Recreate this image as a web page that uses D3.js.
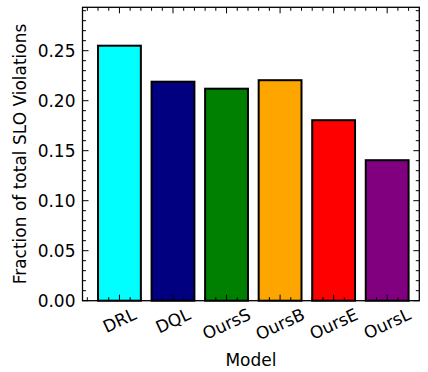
<!DOCTYPE html>
<html>
<head>
<meta charset="utf-8">
<script src="https://cdn.jsdelivr.net/npm/d3@7"></script>
<style>
body { margin: 0; background: #fff; }
text { font-family: "DejaVu Sans", sans-serif; fill: #000; }
</style>
</head>
<body>
<svg id="chart"></svg>
<script>
const width = 428;
const height = 372;
const models = ['DRL', 'DQL', 'OursS', 'OursB', 'OursE', 'OursL'];
const violations = [0.255, 0.219, 0.212, 0.2205, 0.1805, 0.1405];
const colors = ['#00ffff', '#000080', '#008000', '#ffa500', '#ff0000', '#800080'];
const yTicks = [0, 0.05, 0.10, 0.15, 0.20, 0.25];

const plotLeft = 82.5, plotRight = 419.3, plotTop = 7.3, plotBottom = 300.7;
const fontSize = 17;
const majorLen = 6, minorLen = 3.5;

var svg = d3.select('#chart').attr('width', width).attr('height', height);

var xScale = d3.scaleLinear().domain([-0.69, 5.6]).range([plotLeft, plotRight]);
var yScale = d3.scaleLinear().domain([0, 0.2934]).range([plotBottom, plotTop]);

// bars
var barW = xScale(0.8) - xScale(0);
svg.append('g').selectAll('rect')
	.data(violations).enter().append('rect')
	.attr('x', (d, i) => xScale(i) - barW / 2)
	.attr('y', d => yScale(d))
	.attr('width', barW)
	.attr('height', d => yScale(0) - yScale(d))
	.style('fill', (d, i) => colors[i])
	.style('stroke', '#000')
	.style('stroke-width', 2);

// ticks, all pointing inward
var ticks = svg.append('g').style('stroke', '#000').style('stroke-width', 1);
var xMinor = d3.range(-3, 29).map(k => k * 0.2).filter(v => v >= -0.69 && v <= 5.6);
xMinor.forEach(v => {
	var major = Math.abs(v - Math.round(v)) < 1e-6;
	var len = major ? majorLen : minorLen;
	var x = xScale(v);
	ticks.append('line').attr('x1', x).attr('x2', x).attr('y1', plotBottom).attr('y2', plotBottom - len);
	ticks.append('line').attr('x1', x).attr('x2', x).attr('y1', plotTop).attr('y2', plotTop + len);
});
var yMinor = d3.range(0, 30).map(k => k * 0.01);
yMinor.forEach((v, k) => {
	var len = k % 5 === 0 ? majorLen : minorLen;
	var y = yScale(v);
	ticks.append('line').attr('x1', plotLeft).attr('x2', plotLeft + len).attr('y1', y).attr('y2', y);
	ticks.append('line').attr('x1', plotRight).attr('x2', plotRight - len).attr('y1', y).attr('y2', y);
});

// frame
svg.append('rect')
	.attr('x', plotLeft).attr('y', plotTop)
	.attr('width', plotRight - plotLeft).attr('height', plotBottom - plotTop)
	.style('fill', 'none').style('stroke', '#000').style('stroke-width', 1.3);

// y tick labels
svg.append('g').selectAll('text')
	.data(yTicks).enter().append('text')
	.attr('x', plotLeft - 7)
	.attr('y', d => yScale(d))
	.attr('dy', '0.36em')
	.attr('text-anchor', 'end')
	.style('font-size', fontSize + 'px')
	.text(d => d.toFixed(2));

// x tick labels, rotated
var angle = 25;
var rad = angle * Math.PI / 180;
var xl = svg.append('g').selectAll('text')
	.data(models).enter().append('text')
	.attr('text-anchor', 'middle')
	.attr('dominant-baseline', 'central')
	.style('font-size', fontSize + 'px')
	.text(d => d);
xl.each(function(d, i) {
	var w = this.getComputedTextLength();
	var h = fontSize * 1.1;
	var bh = w * Math.sin(rad) + h * Math.cos(rad);
	var cx = xScale(i);
	var cy = plotBottom + 4 + bh / 2;
	d3.select(this).attr('transform', `translate(${cx},${cy}) rotate(${-angle})`);
});

// axis titles
svg.append('text')
	.attr('x', (plotLeft + plotRight) / 2).attr('y', 366)
	.attr('text-anchor', 'middle')
	.style('font-size', fontSize + 'px')
	.text('Model');

svg.append('text')
	.attr('transform', `translate(26,${(plotTop + plotBottom) / 2}) rotate(-90)`)
	.attr('text-anchor', 'middle')
	.style('font-size', fontSize + 'px')
	.text('Fraction of total SLO Violations');
</script>
</body>
</html>
